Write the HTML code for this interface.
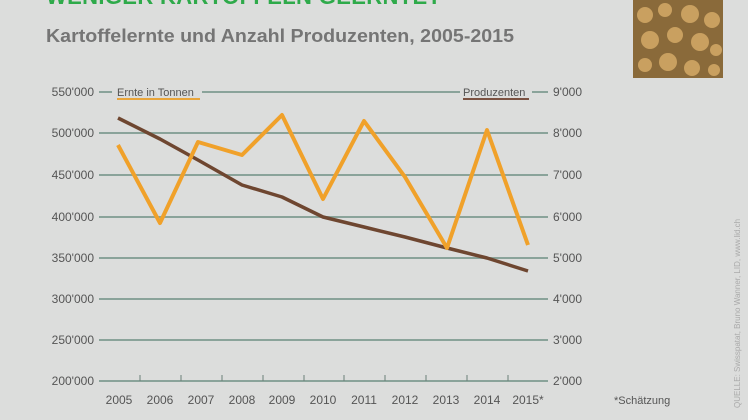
<!DOCTYPE html>
<html><head><meta charset="utf-8"><style>
html,body{margin:0;padding:0;width:748px;height:420px;overflow:hidden;background:#dcdddc;}
svg{display:block}
text{font-family:"Liberation Sans",sans-serif;}
</style></head><body>
<svg width="748" height="420" viewBox="0 0 748 420">
<rect width="748" height="420" fill="#dcdddc"/>
<text x="46" y="4" font-size="22" font-weight="bold" fill="#2eaa4a" textLength="395">WENIGER KARTOFFELN GEERNTET</text>
<text x="46" y="42" font-size="18" font-weight="bold" fill="#757575" textLength="468" lengthAdjust="spacingAndGlyphs">Kartoffelernte und Anzahl Produzenten, 2005-2015</text>
<rect x="633" y="0" width="90" height="78" fill="#8a6a3a"/>
<g fill="#c9a060">
<circle cx="645" cy="15" r="8"/><circle cx="665" cy="10" r="7"/><circle cx="690" cy="14" r="9"/><circle cx="712" cy="20" r="8"/>
<circle cx="650" cy="40" r="9"/><circle cx="675" cy="35" r="8"/><circle cx="700" cy="42" r="9"/><circle cx="716" cy="50" r="6"/>
<circle cx="645" cy="65" r="7"/><circle cx="668" cy="62" r="9"/><circle cx="692" cy="68" r="8"/><circle cx="714" cy="70" r="6"/>
</g>
<g stroke="#8aa39a" stroke-width="2">
<line x1="99" y1="133" x2="548" y2="133"/><line x1="99" y1="175" x2="548" y2="175"/>
<line x1="99" y1="217" x2="548" y2="217"/><line x1="99" y1="258" x2="548" y2="258"/>
<line x1="99" y1="299" x2="548" y2="299"/><line x1="99" y1="340" x2="548" y2="340"/>
<line x1="99" y1="381" x2="548" y2="381"/>
<line x1="99" y1="92" x2="112" y2="92"/><line x1="202" y1="92" x2="460" y2="92"/><line x1="532" y1="92" x2="548" y2="92"/>
</g>
<g stroke="#6a7f78" stroke-width="1">
<line x1="140" y1="375" x2="140" y2="381"/><line x1="181" y1="375" x2="181" y2="381"/><line x1="222" y1="375" x2="222" y2="381"/>
<line x1="263" y1="375" x2="263" y2="381"/><line x1="304" y1="375" x2="304" y2="381"/><line x1="344" y1="375" x2="344" y2="381"/>
<line x1="385" y1="375" x2="385" y2="381"/><line x1="426" y1="375" x2="426" y2="381"/><line x1="467" y1="375" x2="467" y2="381"/>
<line x1="508" y1="375" x2="508" y2="381"/>
</g>
<g font-size="12" fill="#555" text-anchor="end">
<text x="94" y="96">550'000</text><text x="94" y="137">500'000</text><text x="94" y="179">450'000</text>
<text x="94" y="221">400'000</text><text x="94" y="262">350'000</text><text x="94" y="303">300'000</text>
<text x="94" y="344">250'000</text><text x="94" y="385">200'000</text>
</g>
<g font-size="12" fill="#555">
<text x="553" y="96">9'000</text><text x="553" y="137">8'000</text><text x="553" y="179">7'000</text>
<text x="553" y="221">6'000</text><text x="553" y="262">5'000</text><text x="553" y="303">4'000</text>
<text x="553" y="344">3'000</text><text x="553" y="385">2'000</text>
</g>
<g font-size="12" fill="#555" text-anchor="middle">
<text x="119" y="404">2005</text><text x="160" y="404">2006</text><text x="201" y="404">2007</text>
<text x="242" y="404">2008</text><text x="282" y="404">2009</text><text x="323" y="404">2010</text>
<text x="364" y="404">2011</text><text x="405" y="404">2012</text><text x="446" y="404">2013</text>
<text x="487" y="404">2014</text><text x="528" y="404">2015*</text>
</g>
<text x="614" y="404" font-size="11" fill="#555">*Schätzung</text>
<text x="117" y="96" font-size="11" fill="#555">Ernte in Tonnen</text>
<line x1="117" y1="99" x2="200" y2="99" stroke="#e9a53a" stroke-width="2"/>
<text x="463" y="96" font-size="11" fill="#555">Produzenten</text>
<line x1="463" y1="99" x2="529" y2="99" stroke="#7b5242" stroke-width="2"/>
<text transform="translate(740,408) rotate(-90)" font-size="8" fill="#aaa">QUELLE: Swisspatat, Bruno Wanner, LID, www.lid.ch</text>
<polyline fill="none" stroke="#6e4630" stroke-width="3.5" stroke-linejoin="round" points="118,118 160,139 198,160 242,185 282,197 323,217 364,227 405,237 447,248 487,258 528,271"/>
<polyline fill="none" stroke="#f0a12a" stroke-width="4" stroke-linejoin="round" points="118,145 160,223 198,142 242,155 282,115 323,199 364,121 405,177 447,248 487,130 528,245"/>
</svg>
</body></html>
